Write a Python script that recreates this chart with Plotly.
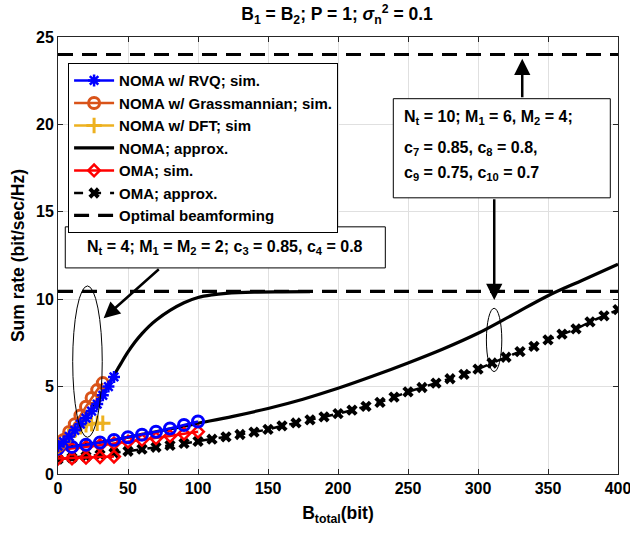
import plotly.graph_objects as go

# ---------------- data ----------------
# Nt = 4 case (simulations)
b_rvq4 = [0, 4, 8, 12, 16, 20, 24, 28, 32, 36, 40]
r_rvq4 = [1.6, 1.85, 2.15, 2.5, 2.85, 3.2, 3.6, 4.0, 4.5, 5.0, 5.55]
b_grass4 = [0, 4, 8, 12, 16, 20, 24, 28, 32]
r_grass4 = [1.6, 1.95, 2.4, 2.85, 3.35, 3.85, 4.35, 4.8, 5.2]
b_dft4 = [0, 4, 8, 12, 16, 20, 24, 28, 32]
r_dft4 = [1.6, 1.9, 2.2, 2.5, 2.7, 2.82, 2.87, 2.9, 2.9]
b_oma_sim4 = [0, 10, 20, 30, 40]
r_oma_sim4 = [0.88, 0.9, 0.93, 0.97, 1.0]
# Nt = 4 NOMA approximation
b_noma_apx4 = [0, 5, 10, 15, 20, 25, 30, 35, 40, 45, 50, 55, 60, 65, 70, 80, 90, 100, 110, 120, 140, 160, 180]
r_noma_apx4 = [1.6, 2.0, 2.45, 2.9, 3.35, 3.85, 4.4, 5.0, 5.65, 6.33, 6.98, 7.55, 8.03, 8.45, 8.8, 9.36, 9.8, 10.1, 10.25, 10.33, 10.4, 10.42, 10.43]

# Nt = 10 case
b_rvq10 = [0, 10, 20, 30, 40, 50, 60, 70, 80, 90, 100]
r_rvq10 = [1.45, 1.55, 1.67, 1.8, 1.95, 2.1, 2.25, 2.42, 2.6, 2.8, 3.0]
b_oma_sim10 = [0, 10, 20, 30, 40, 50, 60, 70, 80, 90, 100]
r_oma_sim10 = [1.37, 1.45, 1.55, 1.65, 1.75, 1.85, 1.95, 2.05, 2.17, 2.3, 2.42]
b_noma_apx10 = [0, 25, 50, 75, 100, 125, 150, 175, 200, 225, 250, 275, 300, 325, 350, 375, 400]
r_noma_apx10 = [1.45, 1.75, 2.1, 2.5, 2.9, 3.3, 3.75, 4.28, 4.9, 5.6, 6.35, 7.15, 8.05, 9.12, 10.2, 11.1, 12.0]
b_oma_apx10 = list(range(0, 401, 10))
r_oma_apx10 = [0.85, 0.92, 1.0, 1.1, 1.2, 1.3, 1.42, 1.53, 1.64, 1.75,
               1.87, 1.99, 2.12, 2.26, 2.4, 2.55, 2.75, 2.92, 3.1, 3.27,
               3.45, 3.65, 3.87, 4.1, 4.4, 4.7, 4.95, 5.2, 5.45, 5.7,
               6.0, 6.35, 6.68, 7.0, 7.3, 7.67, 8.0, 8.3, 8.7, 9.05, 9.4]

# Optimal beamforming levels
b_opt = [0, 400]
r_opt4 = [10.45, 10.45]
r_opt10 = [24.0, 24.0]

# tick labels
x_ticks = [0, 50, 100, 150, 200, 250, 300, 350, 400]
y_ticks = [0, 5, 10, 15, 20, 25]

BLUE = "#0000FF"
ORANGE = "#D95319"
YELLOW = "#EDB120"
RED = "#FF0000"
BLACK = "#000000"
FONT = "Liberation Sans, Arial, Helvetica, sans-serif"

fig = go.Figure()

fig.add_trace(go.Scatter(x=b_noma_apx4, y=r_noma_apx4, mode="lines", line=dict(color=BLACK, width=3.2, shape="spline"),
                         name="NOMA; approx.", legendrank=4))
fig.add_trace(go.Scatter(x=b_noma_apx10, y=r_noma_apx10, mode="lines", line=dict(color=BLACK, width=3.2, shape="spline"),
                         showlegend=False))
fig.add_trace(go.Scatter(x=b_oma_apx10, y=r_oma_apx10, mode="lines+markers",
                         line=dict(color=BLACK, width=2.5, dash="dash"),
                         marker=dict(symbol="x", size=10, color=BLACK),
                         name="OMA; approx.", legendrank=6))
fig.add_trace(go.Scatter(x=b_oma_sim4, y=r_oma_sim4, mode="lines+markers", line=dict(color=RED, width=2.5),
                         marker=dict(symbol="diamond-open", size=9, color=RED, line=dict(width=2.5, color=RED)),
                         name="OMA; sim.", legendrank=5))
fig.add_trace(go.Scatter(x=b_oma_sim10, y=r_oma_sim10, mode="lines+markers", line=dict(color=RED, width=2.5),
                         marker=dict(symbol="diamond-open", size=9, color=RED, line=dict(width=2.5, color=RED)),
                         showlegend=False))
fig.add_trace(go.Scatter(x=b_rvq10, y=r_rvq10, mode="lines+markers", line=dict(color=BLUE, width=2.5),
                         marker=dict(symbol="circle-open", size=11, color=BLUE, line=dict(width=3, color=BLUE)),
                         showlegend=False))
fig.add_trace(go.Scatter(x=b_dft4, y=r_dft4, mode="lines+markers", line=dict(color=YELLOW, width=2.5),
                         marker=dict(symbol="cross-thin-open", size=11, color=YELLOW, line=dict(width=3, color=YELLOW)),
                         name="NOMA w/ DFT; sim", legendrank=3))
fig.add_trace(go.Scatter(x=b_grass4, y=r_grass4, mode="lines+markers", line=dict(color=ORANGE, width=2.5),
                         marker=dict(symbol="circle-open", size=11, color=ORANGE, line=dict(width=3, color=ORANGE)),
                         name="NOMA w/ Grassmannian; sim.", legendrank=2))
fig.add_trace(go.Scatter(x=b_rvq4, y=r_rvq4, mode="lines+markers", line=dict(color=BLUE, width=2.5),
                         marker=dict(symbol="asterisk-open", size=10, color=BLUE, line=dict(width=2.5, color=BLUE)),
                         name="NOMA w/ RVQ; sim.", legendrank=1))
fig.add_trace(go.Scatter(x=b_opt, y=r_opt4, mode="lines", line=dict(color=BLACK, width=3.2, dash="15px,9px"),
                         name="Optimal beamforming", legendrank=7))
fig.add_trace(go.Scatter(x=b_opt, y=r_opt10, mode="lines", line=dict(color=BLACK, width=3.2, dash="15px,9px"),
                         showlegend=False))

# ellipses
line_thin = dict(color=BLACK, width=1)
fig.add_shape(type="circle", xref="x", yref="y", x0=10.5, x1=31.6, y0=2.1, y1=10.76, line=line_thin)
fig.add_shape(type="circle", xref="x", yref="y", x0=306, x1=317, y0=5.86, y1=9.48, line=line_thin)

# text boxes
fig.add_shape(type="rect", xref="x", yref="y", x0=5.2, x1=233.8, y0=11.79, y1=14.14,
              line=dict(color=BLACK, width=1), fillcolor="white", layer="above")
fig.add_shape(type="rect", xref="x", yref="y", x0=239.5, x1=394.5, y0=15.8, y1=21.47,
              line=dict(color=BLACK, width=1), fillcolor="white", layer="above")

ann_font = dict(family=FONT, size=16, color=BLACK, weight="bold")
arrow_common = dict(xref="x", yref="y", axref="x", ayref="y", text="", showarrow=True,
                    arrowhead=2, arrowsize=1.3, arrowwidth=2.5, arrowcolor=BLACK)
fig.add_annotation(x=32.6, y=8.91, ax=73.1, ay=11.79, **arrow_common)
fig.add_annotation(x=331.6, y=23.75, ax=331.6, ay=21.47, **arrow_common)
fig.add_annotation(x=311.6, y=9.95, ax=311.6, ay=15.8, **arrow_common)

fig.add_annotation(x=119.5, y=12.95, xref="x", yref="y", showarrow=False, xanchor="center", yanchor="middle",
                   text="N<sub>t</sub> = 4; M<sub>1</sub> = M<sub>2</sub> = 2; c<sub>3</sub> = 0.85, c<sub>4</sub> = 0.8",
                   font=ann_font)
box2_lines = ["N<sub>t</sub> = 10; M<sub>1</sub> = 6, M<sub>2</sub> = 4;",
              "c<sub>7</sub> = 0.85, c<sub>8</sub> = 0.8,",
              "c<sub>9</sub> = 0.75, c<sub>10</sub> = 0.7"]
for txt, yy in zip(box2_lines, [20.4, 18.65, 17.2]):
    fig.add_annotation(x=245.5, y=yy, xref="x", yref="y", showarrow=False, xanchor="left", yanchor="middle",
                       text=txt, font=ann_font, align="left")

axis_common = dict(showgrid=True, gridcolor="#e0e0e0", gridwidth=1, zeroline=False,
                   showline=True, linecolor="#262626", linewidth=1, mirror="ticks",
                   ticks="inside", ticklen=5, tickcolor="#262626", automargin=False,
                   ticklabeloverflow="allow",
                   tickfont=dict(family=FONT, size=16, color=BLACK, weight="bold"))

fig.update_xaxes(range=[0, 400], tickvals=x_ticks, ticktext=[str(v) for v in x_ticks],
                 title=dict(text="B<sub>total</sub>(bit)", font=dict(family=FONT, size=17.5, color=BLACK, weight="bold"),
                            standoff=10),
                 **axis_common)
fig.update_yaxes(range=[0, 25], tickvals=y_ticks, ticktext=[str(v) for v in y_ticks],
                 title=dict(text="Sum rate (bit/sec/Hz)", font=dict(family=FONT, size=17.5, color=BLACK, weight="bold"),
                            standoff=6),
                 **axis_common)

fig.update_layout(
    width=630, height=533,
    margin=dict(l=58, r=12, t=37, b=59, autoexpand=False),
    paper_bgcolor="white", plot_bgcolor="white",
    title=dict(text="B<sub>1</sub> = B<sub>2</sub>; P = 1; <i>σ</i><sub>n</sub><sup>2</sup> = 0.1",
               x=0.535, xanchor="center", y=0.974, yanchor="middle",
               font=dict(family=FONT, size=17.5, color=BLACK, weight="bold")),
    legend=dict(x=0.018, y=0.94, xanchor="left", yanchor="top", bgcolor="white",
                bordercolor=BLACK, borderwidth=1, font=dict(family=FONT, size=15, color=BLACK, weight="bold"),
                tracegroupgap=0, itemwidth=40),
    showlegend=True,
)

fig.write_html("out.html", config={"displayModeBar": False},
               post_script="document.body.style.margin='0px';document.body.style.overflow='hidden';")
